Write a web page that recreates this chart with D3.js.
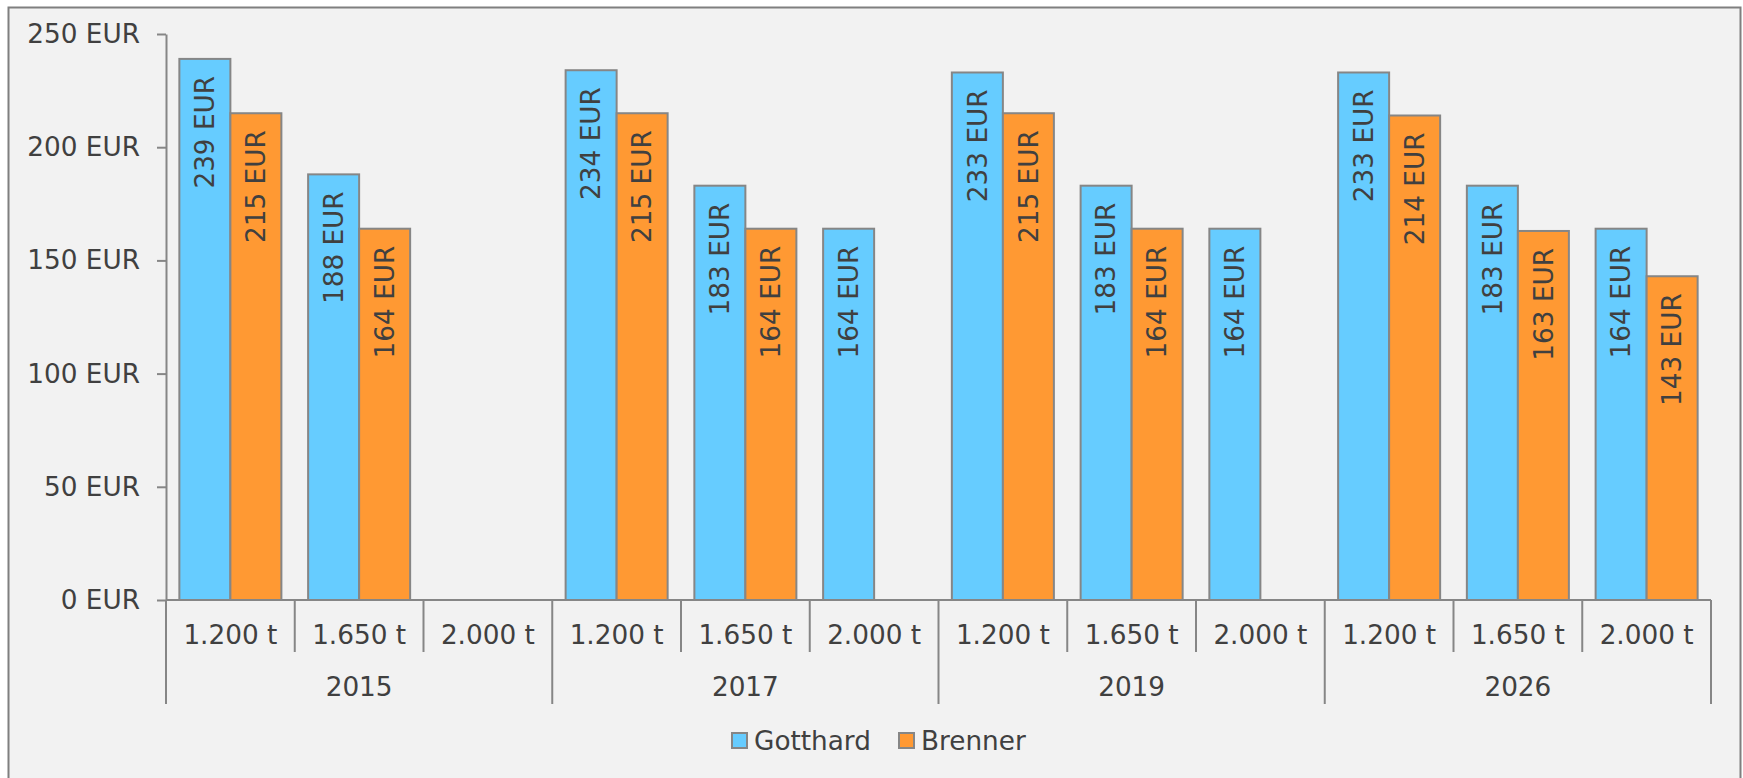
<!DOCTYPE html>
<html>
<head>
<meta charset="utf-8">
<script src="https://cdn.jsdelivr.net/npm/d3@7"></script>
<style>
  html, body { margin: 0; padding: 0; background: #ffffff; }
  svg { display: block; }
  text { font-family: "DejaVu Sans", Verdana, sans-serif; fill: #404040; }
</style>
</head>
<body>
<svg id="chart" width="1743" height="778"></svg>
<script>
const years = ["2015", "2017", "2019", "2026"];
const weights = ["1.200 t", "1.650 t", "2.000 t"];
const seriesNames = ["Gotthard", "Brenner"];
const gotthard = [239, 188, null, 234, 183, 164, 233, 183, 164, 233, 183, 164];
const brenner  = [215, 164, null, 215, 164, null, 215, 164, null, 214, 163, 143];
const yTicks = [0, 50, 100, 150, 200, 250];
const colors = ["#66CCFF", "#FF9933"];

(function () {
const svg = d3.select("#chart");
const mLeft = 166, mRight = 1711, mTop = 34, mBottom = 600;
const fs = "26.3px";

svg.append("rect").attr("x", 8.5).attr("y", 7.5).attr("width", 1732).attr("height", 790)
  .attr("fill", "#F2F2F2").attr("stroke", "#7F7F7F").attr("stroke-width", 2);

const cats = [];
years.forEach(yr => weights.forEach(w => cats.push({year: yr, weight: w})));

const x = d3.scaleBand().domain(d3.range(cats.length)).range([mLeft, mRight]).paddingInner(0).paddingOuter(0);
const xi = d3.scaleBand().domain(seriesNames).range([0, x.bandwidth()]).paddingInner(0).paddingOuter(0.262);
const y = d3.scaleLinear().domain([0, 250]).range([mBottom, mTop]);

const axisColor = "#868686";

const ya = svg.append("g").attr("transform", `translate(${mLeft},0)`)
  .call(d3.axisLeft(y).tickValues(yTicks).tickFormat(d => d + " EUR").tickSize(9).tickSizeOuter(0).tickPadding(17));
ya.select(".domain").attr("stroke", axisColor).attr("stroke-width", 2);
ya.selectAll(".tick line").attr("stroke", axisColor).attr("stroke-width", 2);
ya.selectAll(".tick text").style("font-family", "DejaVu Sans, Verdana, sans-serif").style("font-size", fs).attr("fill", "#404040");

const data = [gotthard, brenner];
data.forEach((vals, si) => {
  const g = svg.append("g");
  vals.forEach((v, i) => {
    if (v == null) return;
    const bx = x(i) + xi(seriesNames[si]);
    g.append("rect")
      .attr("x", bx).attr("y", y(v))
      .attr("width", xi.bandwidth()).attr("height", y(0) - y(v))
      .attr("fill", colors[si]).attr("stroke", "#868686").attr("stroke-width", 2);
    const cx = bx + xi.bandwidth() / 2;
    const ty = y(v) + 17;
    g.append("text")
      .attr("transform", `translate(${cx},${ty}) rotate(-90)`)
      .attr("text-anchor", "end").attr("dy", "0.35em")
      .style("font-size", fs)
      .text(v + " EUR");
  });
});

svg.append("line").attr("x1", mLeft).attr("x2", mRight).attr("y1", mBottom).attr("y2", mBottom)
  .attr("stroke", axisColor).attr("stroke-width", 2);

for (let i = 0; i <= cats.length; i++) {
  const xx = i < cats.length ? x(i) : mRight;
  const isGroup = (i % weights.length === 0);
  svg.append("line").attr("x1", xx).attr("x2", xx).attr("y1", mBottom).attr("y2", isGroup ? 704 : 652)
    .attr("stroke", axisColor).attr("stroke-width", 2);
}

cats.forEach((c, i) => {
  svg.append("text").attr("x", x(i) + x.bandwidth() / 2).attr("y", 635).attr("dy", "0.35em")
    .attr("text-anchor", "middle").style("font-size", fs).text(c.weight);
});
years.forEach((yr, gi) => {
  const x0 = x(gi * weights.length);
  const x1 = gi * weights.length + weights.length < cats.length ? x(gi * weights.length + weights.length) : mRight;
  svg.append("text").attr("x", (x0 + x1) / 2).attr("y", 687).attr("dy", "0.35em")
    .attr("text-anchor", "middle").style("font-size", fs).text(yr);
});

const legendX = [732, 899];
seriesNames.forEach((s, i) => {
  svg.append("rect").attr("x", legendX[i]).attr("y", 733).attr("width", 15).attr("height", 15)
    .attr("fill", colors[i]).attr("stroke", "#868686").attr("stroke-width", 2);
  svg.append("text").attr("x", legendX[i] + 22).attr("y", 741).attr("dy", "0.35em")
    .style("font-size", fs).text(s);
});
})();
</script>
</body>
</html>
